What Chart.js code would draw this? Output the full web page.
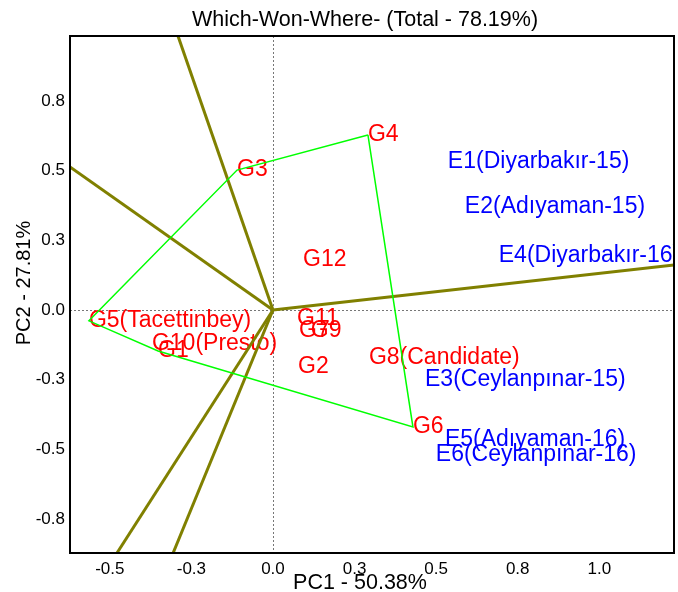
<!DOCTYPE html>
<html lang="en">
<head>
    <meta charset="UTF-8">
    <title>Which-Won-Where</title>
    <style>
        *{
            margin:0;
            padding:0;
        }
        body{
            background: #fff;
        }
        .box{
            position: relative;
            width: 678px;
            height: 592px;
        }
    </style>
</head>
<body>
    <div class="box">
        <canvas id="wwwChart"></canvas>
    </div>
    <script src="https://cdn.jsdelivr.net/npm/chart.js@4.4.1/dist/chart.umd.min.js"></script>
    <script>
        const genoNames = ['G1', 'G2', 'G3', 'G4', 'G5(Tacettinbey)', 'G6', 'G7', 'G8(Candidate)', 'G9', 'G10(Presto)', 'G11', 'G12'];
        const genoX = [-0.352, 0.077, -0.110, 0.291, -0.564, 0.429, 0.080, 0.294, 0.116, -0.371, 0.074, 0.092];
        const genoY = [-0.147, -0.204, 0.502, 0.628, -0.039, -0.420, -0.075, -0.172, -0.075, -0.122, -0.032, 0.179];

        const envNames = ['E1(Diyarbakır-15)', 'E2(Adıyaman-15)', 'E3(Ceylanpınar-15)', 'E4(Diyarbakır-16)', 'E5(Adıyaman-16)', 'E6(Ceylanpınar-16)'];
        const envX = [0.536, 0.588, 0.466, 0.692, 0.527, 0.499];
        const envY = [0.531, 0.369, -0.251, 0.194, -0.466, -0.520];

        // polygon vertices (winning genotypes), closed
        const hullOrder = ['G4', 'G3', 'G5(Tacettinbey)', 'G1', 'G6', 'G4'];

        // sector rays from the origin, read where they meet the frame
        const rayEndX = [-0.291, -0.622, -0.478, -0.306, 1.229];
        const rayEndY = [0.983, 0.513, -0.872, -0.872, 0.161];

        const xTickValues = [-0.5, -0.25, 0, 0.25, 0.5, 0.75, 1.0];
        const xTickLabels = ['-0.5', '-0.3', '0.0', '0.3', '0.5', '0.8', '1.0'];
        const yTickValues = [-0.75, -0.5, -0.25, 0, 0.25, 0.5, 0.75];
        const yTickLabels = ['-0.8', '-0.5', '-0.3', '0.0', '0.3', '0.5', '0.8'];

        const xMin = -0.622, xMax = 1.229;
        const yMin = -0.872, yMax = 0.983;

        const family = "'Liberation Sans', Arial, sans-serif";

        const hullData = hullOrder.map(function(n){
            const i = genoNames.indexOf(n);
            return {x: genoX[i], y: genoY[i]};
        });

        const rayDatasets = rayEndX.map(function(x, i){
            return {
                type: 'line',
                data: [{x: 0, y: 0}, {x: x, y: rayEndY[i]}],
                borderColor: '#808000',
                borderWidth: 3,
                pointRadius: 0,
                fill: false
            };
        });

        const plotExtras = {
            id: 'plotExtras',
            beforeDatasetsDraw(chart){
                const ctx = chart.ctx;
                const a = chart.chartArea;
                const px = chart.scales.x.getPixelForValue(0);
                const py = chart.scales.y.getPixelForValue(0);
                ctx.save();
                ctx.beginPath();
                ctx.rect(a.left, a.top, a.right - a.left, a.bottom - a.top);
                ctx.clip();
                ctx.strokeStyle = '#777';
                ctx.lineWidth = 1;
                ctx.setLineDash([2, 2]);
                ctx.beginPath();
                ctx.moveTo(Math.round(px) + 0.5, a.top);
                ctx.lineTo(Math.round(px) + 0.5, a.bottom);
                ctx.moveTo(a.left, Math.round(py) + 0.5);
                ctx.lineTo(a.right, Math.round(py) + 0.5);
                ctx.stroke();
                ctx.setLineDash([]);

                ctx.font = '23px ' + family;
                ctx.textAlign = 'left';
                ctx.textBaseline = 'middle';
                chart.data.datasets.forEach(function(ds, i){
                    if (!ds.names) return;
                    ctx.fillStyle = ds.textColor;
                    chart.getDatasetMeta(i).data.forEach(function(pt, j){
                        ctx.fillText(ds.names[j], pt.x, pt.y);
                    });
                });
                ctx.restore();
            },
            afterDatasetsDraw(chart){
                const ctx = chart.ctx;
                const a = chart.chartArea;
                ctx.save();
                ctx.strokeStyle = '#000';
                ctx.lineWidth = 2;
                ctx.strokeRect(a.left, a.top, a.right - a.left, a.bottom - a.top);
                ctx.restore();
            },
            afterDraw(chart){
                const ctx = chart.ctx;
                ctx.save();
                ctx.fillStyle = '#000';
                ctx.textAlign = 'center';
                ctx.textBaseline = 'middle';
                ctx.font = '21.5px ' + family;
                ctx.fillText('Which-Won-Where- (Total - 78.19%)', 365, 20);
                ctx.fillText('PC1 - 50.38%', 360, 583);
                ctx.font = '20px ' + family;
                ctx.translate(24, 283);
                ctx.rotate(-Math.PI / 2);
                ctx.fillText('PC2 - 27.81%', 0, 0);
                ctx.restore();
            }
        };

        const ctx = document.getElementById('wwwChart').getContext('2d');
        const wwwChart = new Chart(ctx, {
            type: 'scatter',
            data: {
                datasets: [{
                    type: 'line',
                    data: hullData,
                    borderColor: '#00ff00',
                    borderWidth: 1.5,
                    pointRadius: 0,
                    fill: false
                }].concat(rayDatasets, [{
                    data: genoX.map(function(x, i){ return {x: x, y: genoY[i]}; }),
                    names: genoNames,
                    textColor: '#ff0000',
                    pointRadius: 0
                }, {
                    data: envX.map(function(x, i){ return {x: x, y: envY[i]}; }),
                    names: envNames,
                    textColor: '#0000ff',
                    pointRadius: 0
                }])
            },
            options: {
                responsive: true,
                maintainAspectRatio: false,
                animation: false,
                layout: {
                    padding: {top: 36, right: 4, bottom: 0, left: 0}
                },
                plugins: {
                    legend: {display: false},
                    title: {display: false},
                    tooltip: {enabled: false}
                },
                scales: {
                    x: {
                        type: 'linear',
                        min: xMin,
                        max: xMax,
                        grid: {display: false, drawTicks: false},
                        border: {display: false},
                        afterBuildTicks: function(s){ s.ticks = xTickValues.map(function(v){ return {value: v}; }); },
                        afterFit: function(s){ s.height = 39; },
                        ticks: {
                            padding: 6,
                            color: '#000',
                            maxRotation: 0,
                            autoSkip: false,
                            font: {family: family, size: 17},
                            callback: function(v, i){ return xTickLabels[i]; }
                        }
                    },
                    y: {
                        type: 'linear',
                        min: yMin,
                        max: yMax,
                        grid: {display: false, drawTicks: false},
                        border: {display: false},
                        afterBuildTicks: function(s){ s.ticks = yTickValues.map(function(v){ return {value: v}; }); },
                        afterFit: function(s){ s.width = 70; },
                        ticks: {
                            padding: 5,
                            color: '#000',
                            autoSkip: false,
                            font: {family: family, size: 17},
                            callback: function(v, i){ return yTickLabels[i]; }
                        }
                    }
                }
            },
            plugins: [plotExtras]
        });
    </script>
</body>
</html>
